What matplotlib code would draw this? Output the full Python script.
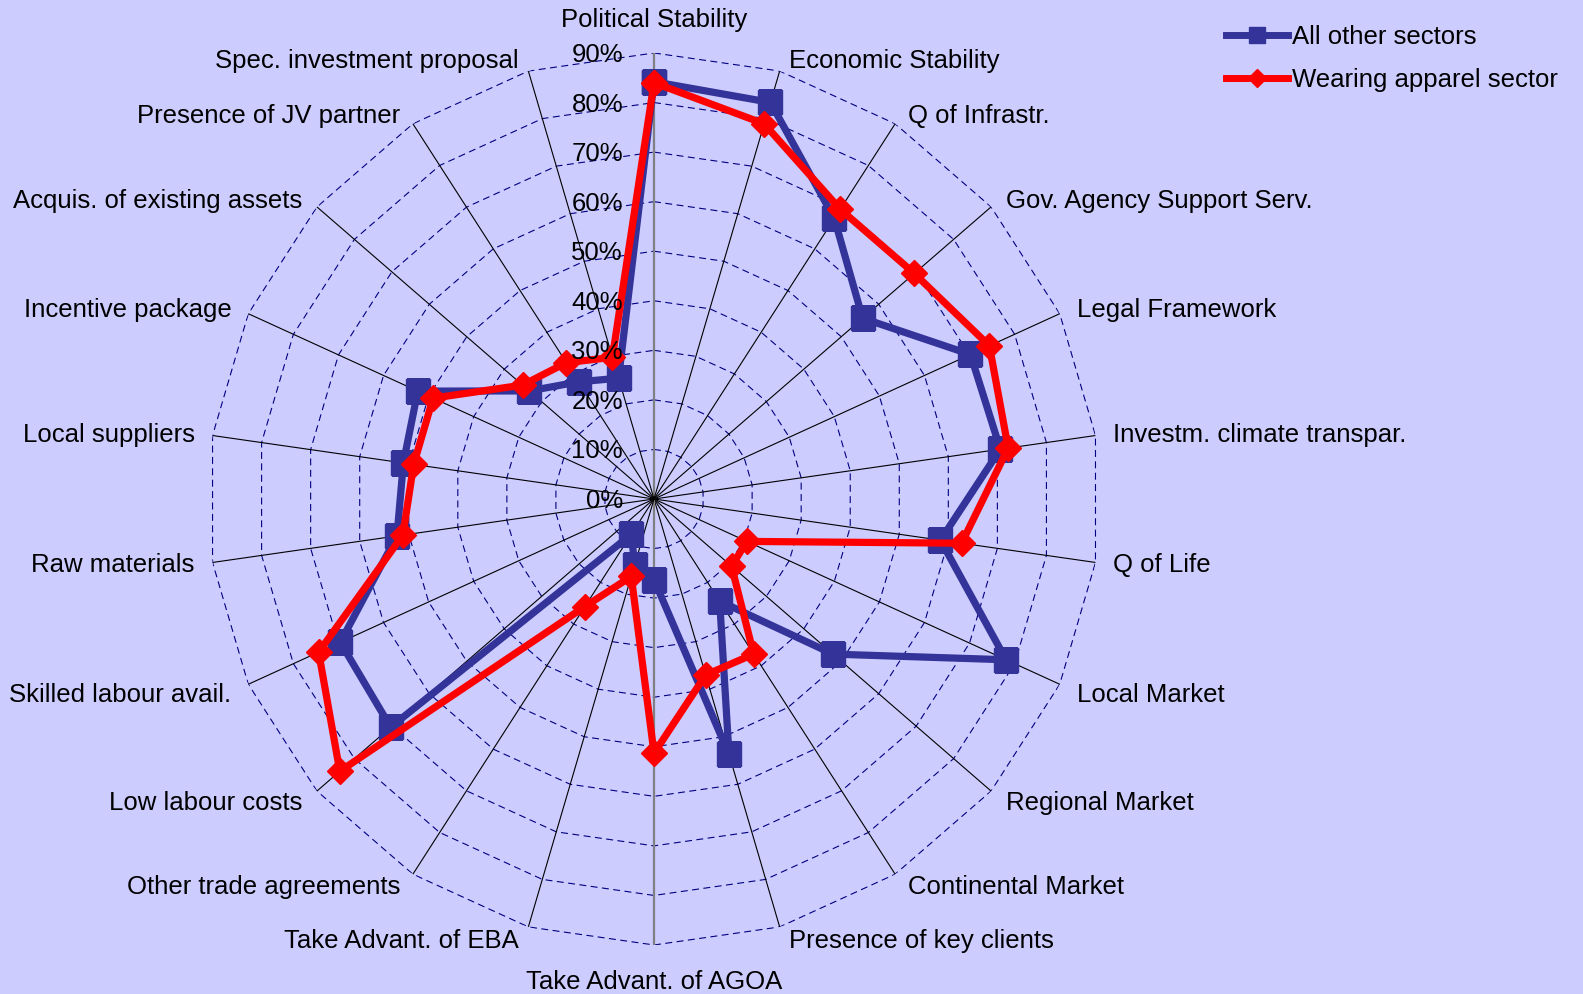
#!/usr/bin/env python3
"""Radar chart: location factors, all other sectors vs wearing apparel sector"""
import numpy as np
import matplotlib
matplotlib.use("Agg")
import matplotlib.pyplot as plt
from matplotlib.lines import Line2D

categories = [
    "Political Stability", "Economic Stability", "Q of Infrastr.",
    "Gov. Agency Support Serv.", "Legal Framework", "Investm. climate transpar.",
    "Q of Life", "Local Market", "Regional Market", "Continental Market",
    "Presence of key clients", "Take Advant. of AGOA", "Take Advant. of EBA",
    "Other trade agreements", "Low labour costs", "Skilled labour avail.",
    "Raw materials", "Local suppliers", "Incentive package",
    "Acquis. of existing assets", "Presence of JV partner",
    "Spec. investment proposal",
]
all_other = [84.2, 83.4, 67.3, 55.7, 70.2, 70.6, 58.4, 78.1, 47.8, 24.5, 53.7,
             16.3, 13.8, 8.5, 70.3, 69.6, 52.4, 51.1, 52.4, 33.3, 28.1, 25.4]
apparel = [84.0, 78.9, 69.5, 69.5, 74.4, 72.2, 62.7, 20.6, 20.7, 37.2, 37.0,
           51.3, 16.3, 25.8, 83.9, 74.4, 51.2, 49.0, 49.0, 35.1, 32.7, 29.8]
rings = [0, 10, 20, 30, 40, 50, 60, 70, 80, 90]

BG = "#CCCCFF"
BLUE = "#333399"
RED = "#FF0000"
FS = 18.5

plt.rcParams["font.family"] = ["Liberation Sans", "DejaVu Sans"]
plt.rcParams["lines.scale_dashes"] = False

fig = plt.figure(figsize=(15.83, 9.94), dpi=100, facecolor=BG)
ax = fig.add_axes([0.1314, 0.0493, 0.5635, 0.8974], projection="polar")
ax.set_theta_zero_location("N")
ax.set_theta_direction(-1)
ax.set_ylim(0, 90)
ax.set_axis_off()

n = len(categories)
angles = np.arange(n) * 2 * np.pi / n
closed = np.append(angles, angles[0])

# polygon gridlines
for r in rings[1:]:
    ax.plot(closed, [r] * (n + 1), color="#000080", lw=0.8,
            ls=(0, (5, 3.2)), zorder=1)
# spokes
for i, a in enumerate(angles):
    vert = abs(np.sin(a)) < 1e-6
    ax.plot([a, a], [0, 90], color="#808080" if vert else "black",
            lw=1.6 if vert else 0.8, zorder=1.5)

ax.plot(closed, all_other + all_other[:1], color=BLUE, lw=5.2, marker="s",
        ms=17.5, mec=BLUE, mfc=BLUE, zorder=3)
ax.plot(closed, apparel + apparel[:1], color=RED, lw=5.2, marker="D",
        ms=12.8, mec=RED, mfc=RED, zorder=4)

# value labels
for r in rings:
    ax.annotate(f"{r}%", xy=(0, r), xytext=(-31, -2), textcoords="offset pixels",
                ha="right", va="center", fontsize=FS, zorder=5)

# category labels
for lab, a in zip(categories, angles):
    s, c = np.sin(a), np.cos(a)
    if abs(s) < 1e-6:
        dx, dy, ha = 0, 33 if c > 0 else -37, "center"
    else:
        dx = np.sign(s) * (6 + 12 * abs(s))
        dy = 11 * c - 1 if c > -0.3 else -(9 + 5 * abs(c))
        ha = "left" if s > 0 else "right"
    ax.annotate(lab, xy=(a, 90), xytext=(dx, dy), textcoords="offset pixels",
                ha=ha, va="center", fontsize=FS, annotation_clip=False)

handles = [
    Line2D([], [], color=BLUE, lw=5, marker="s", ms=12, mec=BLUE, mfc=BLUE),
    Line2D([], [], color=RED, lw=5, marker="D", ms=8.7, mec=RED, mfc=RED),
]
fig.legend(handles, ["All other sectors", "Wearing apparel sector"],
           loc="upper left", bbox_to_anchor=(1226 / 1583, 1 - 25 / 994),
           frameon=False, fontsize=FS, handlelength=2.4, handletextpad=0.16,
           labelspacing=0.72, borderpad=0, borderaxespad=0)

fig.savefig("out.png", dpi=100, facecolor=BG)
